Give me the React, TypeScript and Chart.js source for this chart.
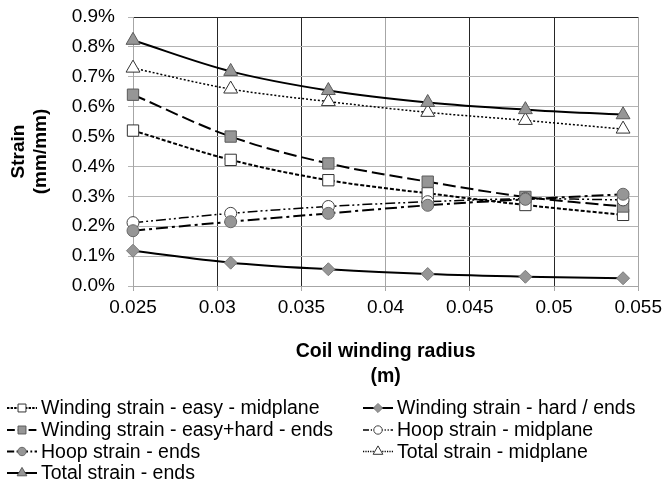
import React, { useEffect, useRef } from 'react';
import { Chart, registerables } from 'chart.js';

Chart.register(...registerables);

// ---- data ----
const radius = [0.025, 0.0308, 0.0366, 0.0425, 0.0483, 0.0541];
const windingEasyMid = [0.52, 0.422, 0.354, 0.31, 0.271, 0.238];
const windingHardEnds = [0.118, 0.078, 0.056, 0.04, 0.031, 0.026];
const windingEasyHardEnds = [0.64, 0.5, 0.41, 0.349, 0.298, 0.266];
const hoopMid = [0.212, 0.243, 0.266, 0.282, 0.292, 0.288];
const hoopEnds = [0.185, 0.215, 0.243, 0.27, 0.29, 0.307];
const totalMid = [0.729, 0.659, 0.617, 0.581, 0.554, 0.525];
const totalEnds = [0.822, 0.718, 0.654, 0.614, 0.59, 0.573];

const seriesLabels = [
  'Winding strain - easy - midplane',
  'Winding strain - hard / ends',
  'Winding strain - easy+hard - ends',
  'Hoop strain - midplane',
  'Hoop strain - ends',
  'Total strain - midplane',
  'Total strain - ends',
];
const seriesValues = [windingEasyMid, windingHardEnds, windingEasyHardEnds, hoopMid, hoopEnds, totalMid, totalEnds];

const xTicks = [0.025, 0.03, 0.035, 0.04, 0.045, 0.05, 0.055];
const yMax = 0.9;

// ---- styles ----
const GRAY = '#969696';
const GRAY_BORDER = '#5a5a5a';
const styles = [
  { dash: [4, 2], width: 2, shape: 'rect', radius: 8, fill: '#ffffff', stroke: '#333333' },
  { dash: [], width: 2, shape: 'rectRot', radius: 6.5, fill: GRAY, stroke: '#7a7a7a' },
  { dash: [13, 5], width: 2, shape: 'rect', radius: 8, fill: GRAY, stroke: GRAY_BORDER },
  { dash: [10, 3, 2, 3, 2, 3], width: 1.5, shape: 'circle', radius: 6, fill: '#ffffff', stroke: '#444444' },
  { dash: [12, 4, 3, 4], width: 2, shape: 'circle', radius: 6, fill: GRAY, stroke: '#6a6a6a' },
  { dash: [2, 2], width: 1.5, shape: 'triangle', radius: 8, fill: '#ffffff', stroke: '#333333' },
  { dash: [], width: 2, shape: 'triangle', radius: 8, fill: GRAY, stroke: GRAY_BORDER },
];

const FONT = '"Liberation Sans", Arial, sans-serif';

function drawMarker(ctx: CanvasRenderingContext2D, shape: string, x: number, y: number, r: number) {
  ctx.beginPath();
  if (shape === 'rect') {
    const s = r * Math.SQRT1_2;
    ctx.rect(x - s, y - s, 2 * s, 2 * s);
  } else if (shape === 'rectRot') {
    ctx.moveTo(x - r, y);
    ctx.lineTo(x, y - r);
    ctx.lineTo(x + r, y);
    ctx.lineTo(x, y + r);
    ctx.closePath();
  } else if (shape === 'circle') {
    ctx.arc(x, y, r, 0, Math.PI * 2);
  } else if (shape === 'triangle') {
    ctx.moveTo(x, y - r);
    ctx.lineTo(x + r * 0.866, y + r * 0.5);
    ctx.lineTo(x - r * 0.866, y + r * 0.5);
    ctx.closePath();
  }
  ctx.fill();
  ctx.stroke();
}

const legendPlugin = {
  id: 'customLegend',
  afterDraw(chart: any) {
    const ctx: CanvasRenderingContext2D = chart.ctx;
    const colX = [7, 363];
    const rowY = [408, 430, 451.5, 473];
    ctx.save();
    ctx.font = `19.5px ${FONT}`;
    ctx.textBaseline = 'middle';
    ctx.textAlign = 'left';
    seriesLabels.forEach((label, i) => {
      const st = styles[i];
      const x0 = colX[i % 2];
      const y = rowY[Math.floor(i / 2)];
      ctx.strokeStyle = '#000';
      ctx.lineWidth = st.width;
      ctx.setLineDash(st.dash.map((d) => d * 0.6));
      ctx.beginPath();
      ctx.moveTo(x0, y);
      ctx.lineTo(x0 + 30, y);
      ctx.stroke();
      ctx.setLineDash([]);
      ctx.fillStyle = st.fill;
      ctx.strokeStyle = st.stroke;
      ctx.lineWidth = 1;
      drawMarker(ctx, st.shape, x0 + 15, y, st.radius * 0.7);
      ctx.fillStyle = '#000';
      ctx.fillText(label, x0 + 34, y + 1);
    });
    ctx.restore();
  },
};

const near = (a: number, b: number) => Math.abs(a - b) < 1e-6;

export default function App() {
  const ref = useRef<HTMLCanvasElement>(null);

  useEffect(() => {
    if (!ref.current) return;
    Chart.defaults.font.family = FONT;
    const chart = new Chart(ref.current, {
      type: 'line',
      data: {
        datasets: seriesValues.map((vals, i) => ({
          label: seriesLabels[i],
          data: vals.map((v, k) => ({ x: radius[k], y: v })),
          borderColor: '#000000',
          borderWidth: styles[i].width,
          borderDash: styles[i].dash,
          tension: 0.35,
          pointStyle: styles[i].shape as any,
          pointRadius: styles[i].radius,
          pointBackgroundColor: styles[i].fill,
          pointBorderColor: styles[i].stroke,
          pointBorderWidth: 1,
          fill: false,
          clip: false as any,
          order: seriesValues.length - i,
        })),
      },
      options: {
        animation: false,
        responsive: false,
        layout: { padding: { left: 0, right: 27, top: 17, bottom: 94.5 } },
        plugins: {
          legend: { display: false },
          tooltip: { enabled: false },
        },
        scales: {
          x: {
            type: 'linear',
            min: xTicks[0],
            max: xTicks[xTicks.length - 1],
            afterBuildTicks: (scale: any) => {
              scale.ticks = xTicks.map((v) => ({ value: v }));
            },
            afterFit: (scale: any) => {
              scale.height = 103.5;
            },
            ticks: {
              padding: 5,
              color: '#000',
              font: { size: 19 },
              maxRotation: 0,
              callback: (v: any) => String(Number(Number(v).toFixed(4))),
            },
            grid: {
              color: (c: any) => {
                const v = c.tick ? c.tick.value : 0;
                if (near(v, 0.03) || near(v, 0.035) || near(v, 0.045) || near(v, 0.05)) return '#262626';
                return '#a6a6a6';
              },
              lineWidth: 1,
              tickLength: 5,
              tickColor: '#a6a6a6',
            },
            border: { display: true, color: '#a6a6a6' },
            title: {
              display: true,
              text: ['Coil winding radius', '(m)'],
              color: '#000',
              font: { size: 19.5, weight: 'bold', lineHeight: 25 / 19.5 },
              padding: { top: 0, bottom: 0 },
            },
          },
          y: {
            type: 'linear',
            min: 0,
            max: yMax,
            afterFit: (scale: any) => {
              scale.width = 133;
            },
            ticks: {
              stepSize: 0.1,
              padding: 13,
              color: '#000',
              font: { size: 19, lineHeight: 0.4 },
              callback: (v: any) => Number(v).toFixed(1) + '%',
            },
            grid: {
              color: (c: any) => {
                const v = c.tick ? c.tick.value : 0;
                if (near(v, yMax)) return '#262626';
                return '#b4b4b4';
              },
              lineWidth: 1,
              tickLength: 5,
              tickColor: '#b4b4b4',
            },
            border: { display: true, color: '#a6a6a6' },
            title: {
              display: true,
              text: ['Strain', '(mm/mm)'],
              color: '#000',
              font: { size: 19, weight: 'bold', lineHeight: 22 / 19 },
              padding: { top: 8, bottom: 0 },
            },
          },
        },
      },
      plugins: [legendPlugin],
    });
    return () => chart.destroy();
  }, []);

  return (
    <div style={{ position: 'absolute', left: 0, top: 0, width: 667, height: 484, background: '#fff' }}>
      <canvas ref={ref} width={667} height={484} />
    </div>
  );
}
